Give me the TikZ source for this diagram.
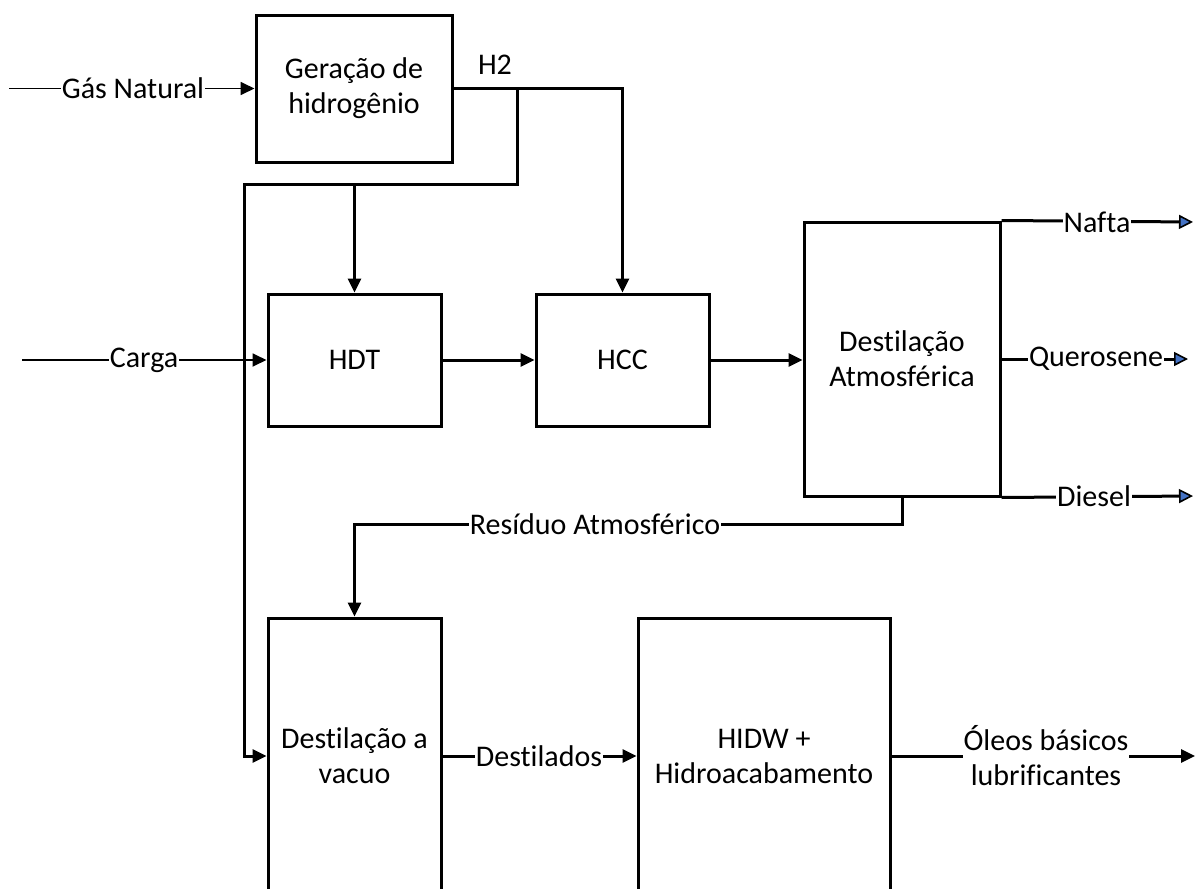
\documentclass[tikz,border=0pt]{standalone}
\usepackage{fontspec}
\setmainfont{Carlito}[Ligatures={NoCommon}]
\usetikzlibrary{arrows.meta}
\definecolor{tipblue}{HTML}{4472C4}
\begin{document}
\begin{tikzpicture}[x=1pt,y=1pt,
  every node/.style={font=\fontsize{30}{35}\selectfont},
  box/.style={draw, line width=3pt, align=center, inner sep=0pt},
  conn/.style={line width=3pt},
  thin/.style={line width=1.8pt},
  tip/.style={-{Triangle[length=14pt,width=13pt]}},
  btip/.style={-{Triangle[length=14pt,width=14pt,fill=tipblue,line width=1.6pt]}},
  lbl/.style={fill=white, inner sep=1pt, align=center}]
\useasboundingbox (0,0) rectangle (1195,-889);
\clip (0,0) rectangle (1195,-889);
% boxes
\node[box, minimum width=196, minimum height=147] (gen) at (354,-88.5) {Geração de\\hidrogênio};
\node[box, minimum width=173, minimum height=132] (hdt) at (354.5,-360) {HDT};
\node[box, minimum width=173, minimum height=132] (hcc) at (622.5,-360) {HCC};
\node[box, minimum width=196, minimum height=274] (atm) at (902,-359) {Destilação\\Atmosférica};
\node[box, minimum width=173, minimum height=276] (vac) at (354.5,-756) {Destilação a\\vacuo};
\node[box, minimum width=252, minimum height=276] (hidw) at (764,-756) {HIDW +\\Hidroacabamento};
% free ends and junctions
\coordinate (gasin) at (9,-88.5);
\coordinate (cargain) at (22,-360);
\coordinate (h2a) at (517,-88.5);
\coordinate (h2c) at (517,-184);
\coordinate (h2d) at (244,-184);
\coordinate (res) at (902,-524);
\coordinate (naftaout) at (1193,-222);
\coordinate (querout) at (1188,-359);
\coordinate (dieselout) at (1193,-496);
\coordinate (oleoout) at (1195,-756);
% connectors
\draw[thin,tip] (gasin) -- (gen.west);
\draw[thin,tip] (cargain) -- (hdt.west);
\draw[conn,tip] (gen.east) -| (hcc.north);
\draw[conn,tip] (h2a) -- (h2c) -- (h2d) |- (vac.west);
\draw[conn,tip] (hdt.north |- h2c) -- (hdt.north);
\draw[conn,tip] (hdt.east) -- (hcc.west);
\draw[conn,tip] (hcc.east) -- (atm.west |- hcc.east);
\draw[conn,btip] (atm.north east) -- (naftaout);
\draw[conn,btip] (atm.east) -- (querout);
\draw[conn,btip] (atm.south east) -- (dieselout);
\draw[conn,tip] (atm.south) -- (res) -| (vac.north);
\draw[conn,tip] (vac.east) -- (hidw.west);
\draw[conn,tip] (hidw.east) -- (oleoout);
% labels
\node[lbl] (lgas) at (133,-88.5) {Gás Natural};
\node[lbl] (lh2) at (495,-65) {H2};
\node[lbl] (lcarga) at (144,-360) {Carga};
\node[lbl] (lnafta) at (1097,-222) {Nafta};
\node[lbl] (lquer) at (1096,-359) {Querosene};
\node[lbl] (ldiesel) at (1094,-496) {Diesel};
\node[lbl] (lres) at (595,-524) {Resíduo Atmosférico};
\node[lbl] (ldest) at (539,-756) {Destilados};
\node[lbl] (loleo) at (1046,-756) {Óleos básicos\\lubrificantes};
\end{tikzpicture}
\end{document}
